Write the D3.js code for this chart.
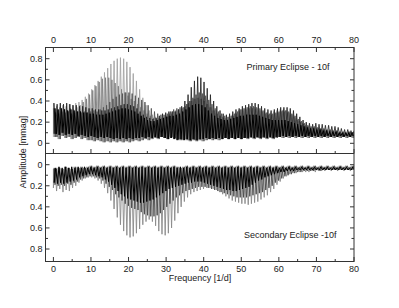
<!DOCTYPE html>
<html><head><meta charset="utf-8">
<script src="https://cdn.jsdelivr.net/npm/d3@7/dist/d3.min.js"></script>
<style>body{margin:0;background:#fff}svg{display:block}text{font-family:"Liberation Sans",Arial,Helvetica,sans-serif;fill:#222}</style>
</head><body><svg id="c" width="399" height="308"></svg>
<script>
// comb line frequencies [1/d]
const combFreq=[0,.85,1.7,2.55,3.4,4.25,5.1,5.95,6.8,7.65,8.5,9.35,10.2,11.05,11.9,12.75,13.6,14.45,15.3,16.15,17,17.85,18.7,19.55,20.4,21.25,22.1,22.95,23.8,24.65,25.5,26.35,27.2,28.05,28.9,29.75,30.6,31.45,32.3,33.15,34,34.85,35.7,36.55,37.4,38.25,39.1,39.95,40.8,41.65,42.5,43.35,44.2,45.05,45.9,46.75,47.6,48.45,49.3,50.15,51,51.85,52.7,53.55,54.4,55.25,56.1,56.95,57.8,58.65,59.5,60.35,61.2,62.05,62.9,63.75,64.6,65.45,66.3,67.15,68,68.85,69.7,70.55,71.4,72.25,73.1,73.95,74.8,75.65,76.5,77.35,78.2,79.05,79.9];

// Primary eclipse – peak amplitudes per comb line (several prewhitening stages)
const priA=[.33,.35,.34,.36,.35,.37,.36,.38,.39,.41,.44,.47,.51,.55,.59,.63,.67,.71,.75,.78,.8,.81,.8,.77,.72,.66,.59,.51,.43,.36,.31,.27,.25,.24,.24,.25,.26,.28,.3,.31,.32,.34,.37,.4,.42,.43,.42,.4,.37,.34,.31,.28,.26,.25,.24,.25,.27,.29,.31,.32,.33,.34,.34,.34,.33,.31,.3,.29,.29,.3,.31,.32,.32,.31,.29,.27,.24,.21,.19,.17,.16,.15,.15,.14,.13,.13,.12,.12,.11,.11,.1,.11,.1,.1,.11];
const priB=[.3,.31,.3,.32,.31,.33,.32,.34,.36,.39,.42,.46,.5,.54,.58,.61,.62,.62,.6,.57,.54,.51,.48,.45,.42,.4,.37,.34,.31,.28,.26,.24,.23,.23,.24,.26,.28,.3,.31,.32,.33,.35,.38,.4,.42,.43,.42,.4,.37,.34,.31,.28,.26,.24,.23,.24,.26,.28,.3,.31,.32,.33,.33,.32,.31,.3,.28,.27,.27,.28,.29,.3,.3,.29,.27,.25,.22,.2,.18,.16,.15,.15,.14,.14,.13,.12,.12,.11,.11,.1,.1,.1,.11,.1,.1];
const priC=[.29,.28,.3,.29,.3,.28,.29,.3,.29,.3,.29,.3,.31,.3,.32,.34,.36,.39,.42,.44,.46,.47,.48,.48,.47,.45,.43,.41,.39,.36,.33,.3,.28,.27,.27,.28,.3,.32,.33,.34,.34,.37,.4,.43,.46,.48,.47,.45,.41,.37,.33,.3,.28,.26,.25,.26,.28,.3,.32,.33,.34,.35,.35,.34,.33,.31,.29,.28,.28,.29,.3,.31,.31,.3,.28,.26,.23,.21,.19,.17,.16,.16,.15,.14,.14,.13,.13,.12,.12,.11,.11,.1,.11,.1,.11];
const priD=[.38,.37,.38,.37,.38,.37,.36,.36,.35,.35,.34,.33,.33,.32,.32,.31,.31,.32,.33,.34,.35,.36,.37,.37,.36,.35,.33,.3,.27,.25,.24,.23,.24,.26,.28,.29,.3,.3,.3,.32,.35,.4,.46,.53,.59,.63,.62,.58,.52,.46,.4,.35,.31,.28,.27,.28,.3,.32,.33,.35,.36,.37,.38,.38,.37,.35,.33,.32,.31,.32,.33,.34,.34,.34,.33,.31,.28,.25,.22,.2,.19,.18,.19,.18,.18,.17,.17,.16,.16,.15,.14,.13,.13,.12,.12];
const priE=[.33,.32,.33,.32,.31,.32,.31,.3,.3,.29,.29,.28,.28,.27,.27,.27,.28,.29,.3,.31,.32,.33,.33,.32,.31,.3,.28,.26,.24,.22,.21,.21,.22,.23,.24,.25,.26,.26,.27,.28,.3,.32,.34,.36,.37,.37,.36,.34,.31,.28,.26,.24,.23,.22,.22,.23,.24,.25,.26,.26,.27,.27,.27,.27,.26,.25,.24,.23,.22,.22,.22,.22,.22,.21,.2,.19,.18,.17,.16,.15,.14,.14,.13,.13,.12,.12,.11,.11,.11,.1,.1,.1,.1,.1,.1];
const priLowGray=[.06,.04,.07,.05,.06,.04,.05,.06,.04,.05,.03,.03,.02,.03,.02,.01,.02,.01,.02,.01,.02,.01,.02,.01,.02,.03,.02,.03,.04,.03,.04,.05,.04,.06,.05,.04,.06,.05,.04,.03,.04,.03,.02,.03,.02,.03,.02,.03,.04,.03,.04,.03,.04,.05,.04,.05,.04,.05,.04,.05,.04,.05,.04,.05,.04,.05,.04,.05,.04,.05,.06,.05,.06,.05,.06,.05,.06,.05,.06,.05,.06,.05,.06,.05,.06,.05,.06,.05,.06,.05,.06,.05,.06,.05,.06];
const priLowBlack=[.09,.08,.1,.08,.09,.08,.09,.07,.08,.07,.06,.07,.06,.05,.06,.05,.06,.05,.04,.05,.04,.05,.04,.05,.04,.05,.05,.06,.05,.06,.05,.06,.05,.06,.05,.04,.05,.04,.03,.04,.03,.04,.03,.04,.03,.04,.04,.05,.04,.05,.04,.05,.04,.05,.04,.05,.04,.05,.04,.05,.05,.06,.05,.06,.05,.06,.05,.06,.05,.06,.06,.07,.06,.07,.06,.07,.06,.07,.06,.07,.06,.07,.06,.07,.06,.07,.06,.07,.06,.07,.06,.07,.06,.07,.06];

// Secondary eclipse
const secA=[.22,.25,.23,.26,.24,.25,.22,.2,.17,.15,.13,.12,.12,.13,.15,.18,.22,.27,.34,.42,.5,.57,.63,.67,.69,.68,.65,.61,.57,.54,.52,.54,.58,.63,.66,.67,.65,.6,.53,.46,.4,.35,.31,.28,.26,.25,.24,.23,.22,.22,.23,.24,.26,.28,.3,.32,.34,.35,.36,.37,.37,.38,.37,.36,.35,.33,.31,.29,.26,.23,.19,.16,.13,.11,.09,.08,.08,.07,.07,.07,.07,.06,.07,.06,.06,.06,.05,.06,.05,.06,.05,.06,.05,.06,.05];
const secB=[.19,.2,.19,.2,.18,.19,.17,.16,.14,.13,.12,.11,.11,.12,.13,.15,.18,.21,.24,.28,.31,.34,.37,.39,.41,.42,.43,.45,.47,.48,.49,.49,.48,.46,.43,.4,.37,.34,.31,.29,.27,.25,.24,.23,.22,.21,.21,.21,.22,.23,.24,.25,.26,.27,.28,.29,.3,.31,.31,.31,.31,.3,.29,.28,.27,.26,.24,.22,.2,.17,.15,.13,.11,.1,.09,.08,.07,.07,.06,.06,.06,.06,.05,.06,.05,.05,.05,.05,.05,.05,.05,.05,.05,.05,.05];
const secC=[.17,.18,.17,.18,.17,.16,.15,.14,.12,.11,.1,.09,.09,.1,.11,.12,.14,.16,.19,.22,.25,.28,.3,.32,.33,.34,.35,.36,.36,.35,.34,.33,.31,.29,.27,.25,.23,.22,.21,.2,.19,.18,.17,.17,.16,.16,.16,.17,.18,.19,.2,.21,.22,.23,.24,.24,.25,.25,.24,.23,.22,.21,.19,.17,.15,.14,.12,.11,.1,.09,.08,.07,.07,.06,.06,.06,.05,.05,.05,.05,.05,.05,.05,.05,.05,.05,.05,.05,.05,.05,.05,.05,.05,.05,.05];
const secLowGray=[.04,.03,.04,.02,.03,.04,.02,.03,.02,.03,.02,.01,.02,.01,.02,.01,.02,.01,.02,.01,.02,.01,.02,.01,.02,.01,.02,.01,.02,.01,.02,.01,.02,.01,.02,.01,.02,.01,.02,.03,.02,.01,.02,.01,.02,.01,.02,.01,.02,.01,.02,.01,.02,.01,.02,.01,.02,.01,.02,.01,.02,.01,.02,.01,.02,.01,.02,.01,.02,.01,.02,.01,.02,.01,.02,.01,.02,.01,.02,.01,.02,.01,.02,.01,.02,.01,.02,.01,.02,.01,.02,.01,.02,.01,.02];
const secLowBlack=[.03,.02,.03,.02,.03,.02,.03,.02,.03,.02,.03,.02,.03,.02,.03,.02,.03,.02,.03,.02,.03,.02,.03,.02,.03,.02,.03,.02,.03,.02,.03,.02,.03,.02,.03,.02,.03,.02,.03,.02,.03,.02,.03,.02,.03,.02,.03,.02,.03,.02,.03,.02,.03,.02,.03,.02,.03,.02,.03,.02,.03,.02,.03,.02,.03,.02,.03,.02,.03,.02,.03,.02,.03,.02,.03,.02,.03,.02,.03,.02,.03,.02,.03,.02,.03,.02,.03,.02,.03,.02,.03,.02,.03,.02,.03];

const xTicks=[0,10,20,30,40,50,60,70,80];
const xMinor=[5,15,25,35,45,55,65,75];
const yTicks=[0,0.2,0.4,0.6,0.8];
const yMinor=[0.1,0.3,0.5,0.7];
const yTickLabels=["0","0.2","0.4","0.6","0.8"];

const priSeries=[
  {hi:priA,lo:priLowGray,shift:0,color:"#a4a4a4",w:0.9},
  {hi:priB,lo:priLowGray,shift:.28,color:"#7e7e7e",w:0.9},
  {hi:priC,lo:priLowGray,shift:.56,color:"#555",w:0.9},
  {hi:priD,lo:priLowBlack,shift:.14,color:"#222",w:0.85},
  {hi:priE,lo:priLowBlack,shift:.42,color:"#000",w:1}
];
const secSeries=[
  {hi:secA,lo:secLowGray,shift:0,color:"#8a8a8a",w:0.9},
  {hi:secB,lo:secLowGray,shift:.42,color:"#4a4a4a",w:0.9},
  {hi:secC,lo:secLowBlack,shift:.21,color:"#000",w:1}
];

const svg=d3.select("#c");
const L=45.5,R=354,T=47.5,M=153.5,B=261.5;
const x=d3.scaleLinear().domain([-2.1,80]).range([L,R]);
const yTop=d3.scaleLinear().domain([0,0.8]).range([143.3,58.7]);
const yBot=d3.scaleLinear().domain([0,0.8]).range([164.7,249]);

const defs=svg.append("defs");
defs.append("clipPath").attr("id","cpT").append("rect").attr("x",L).attr("y",T).attr("width",R-L).attr("height",M-T);
defs.append("clipPath").attr("id","cpB").append("rect").attr("x",L).attr("y",M).attr("width",R-L).attr("height",B-M);

function spikes(s,y){
  const pts=[[x(combFreq[0]+s.shift),y(s.lo[0])]];
  for(let i=0;i<combFreq.length;i++){
    pts.push([x(combFreq[i]+s.shift),y(s.hi[i])]);
    if(i<combFreq.length-1) pts.push([x((combFreq[i]+combFreq[i+1])/2+s.shift),y(s.lo[i])]);
  }
  return d3.line()(pts);
}
const gT=svg.append("g").attr("clip-path","url(#cpT)");
priSeries.forEach(s=>gT.append("path").attr("d",spikes(s,yTop)).attr("fill","none").attr("stroke",s.color).attr("stroke-width",s.w));
const gB=svg.append("g").attr("clip-path","url(#cpB)");
secSeries.forEach(s=>gB.append("path").attr("d",spikes(s,yBot)).attr("fill","none").attr("stroke",s.color).attr("stroke-width",s.w));

// frame
const ax=svg.append("g").attr("stroke","#333").attr("stroke-width",1).attr("fill","none");
ax.append("rect").attr("x",L).attr("y",T).attr("width",R-L).attr("height",B-T);
ax.append("line").attr("x1",L).attr("x2",R).attr("y1",M).attr("y2",M);

function xTickMarks(yy,dir){
  xTicks.forEach(v=>ax.append("line").attr("x1",x(v)).attr("x2",x(v)).attr("y1",yy).attr("y2",yy+dir*4.5));
  xMinor.forEach(v=>ax.append("line").attr("x1",x(v)).attr("x2",x(v)).attr("y1",yy).attr("y2",yy+dir*2.5));
}
xTickMarks(T,1); xTickMarks(M,-1); xTickMarks(B,-1);
function yTickMarks(y){
  yTicks.forEach(v=>{ax.append("line").attr("x1",L).attr("x2",L+4).attr("y1",y(v)).attr("y2",y(v));
    ax.append("line").attr("x1",R).attr("x2",R-4).attr("y1",y(v)).attr("y2",y(v));});
  yMinor.forEach(v=>{ax.append("line").attr("x1",L).attr("x2",L+2.5).attr("y1",y(v)).attr("y2",y(v));
    ax.append("line").attr("x1",R).attr("x2",R-2.5).attr("y1",y(v)).attr("y2",y(v));});
}
yTickMarks(yTop); yTickMarks(yBot);

const fs="9px";
xTicks.forEach(v=>{
  svg.append("text").attr("x",x(v)).attr("y",43).attr("text-anchor","middle").style("font-size",fs).text(v);
  svg.append("text").attr("x",x(v)).attr("y",271.5).attr("text-anchor","middle").style("font-size",fs).text(v);
});
yTicks.forEach((v,i)=>{
  svg.append("text").attr("x",42.5).attr("y",yTop(v)).attr("dy","0.35em").attr("text-anchor","end").style("font-size",fs).text(yTickLabels[i]);
  svg.append("text").attr("x",42.5).attr("y",yBot(v)).attr("dy","0.35em").attr("text-anchor","end").style("font-size",fs).text(yTickLabels[i]);
});
svg.append("text").attr("transform","translate(26,152) rotate(-90)").attr("text-anchor","middle").style("font-size",fs).text("Amplitude [mmag]");
svg.append("text").attr("x",200).attr("y",281).attr("text-anchor","middle").style("font-size",fs).text("Frequency [1/d]");
svg.append("text").attr("x",246.5).attr("y",69.5).style("font-size",fs).text("Primary Eclipse - 10f");
svg.append("text").attr("x",244).attr("y",237.5).style("font-size",fs).text("Secondary Eclipse -10f");
</script></body></html>
